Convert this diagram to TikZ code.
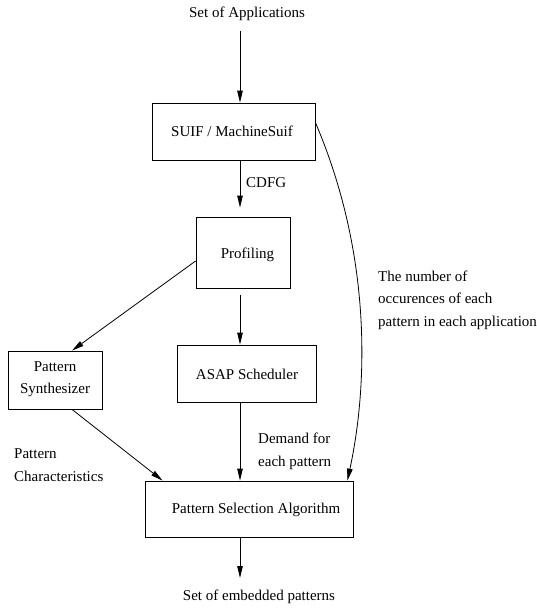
\documentclass[tikz,border=0pt]{standalone}
\usepackage{fontspec}
\setmainfont{Liberation Serif}
\usetikzlibrary{arrows.meta}
\begin{document}
\begin{tikzpicture}[x=1pt,y=-1pt,
  every node/.style={font=\fontsize{15}{22.5}\selectfont, inner sep=0pt},
  box/.style={draw, line width=0.8pt},
  txt/.style={align=center},
  lbl/.style={align=left, anchor=west},
  arr/.style={line width=0.8pt, -{Triangle[length=12pt,width=5.5pt]}}]
\useasboundingbox (0,0) rectangle (537,610);

% column of the main flow
\coordinate (col) at (240,0);

% process boxes
\node[box, minimum width=163pt, minimum height=57pt] (suif) at (233.5,131.5) {};
\node[box, minimum width=94pt,  minimum height=71pt] (prof) at (243,252.5) {};
\node[box, minimum width=139pt, minimum height=57pt] (asap) at (246.5,373.5) {};
\node[box, minimum width=94pt,  minimum height=58pt] (psyn) at (55,380) {};
\node[box, minimum width=208pt, minimum height=56pt] (psa)  at (249,509) {};

% box captions
\node[txt] (suiftxt) at (232,131) {SUIF / MachineSuif};
\node[txt] (proftxt) at (247.5,255) {Profiling};
\node[txt] (asaptxt) at (247,374) {ASAP Scheduler};
\node[txt] (psyntxt) at (55,379) {Pattern\\Synthesizer};
\node[txt] (psatxt)  at (256,510) {Pattern Selection Algorithm};

% input / output
\node (apps) at (247,14) {Set of Applications};
\node (outp) at (259,597) {Set of embedded patterns};
\coordinate (outend) at (240,578);

% edge labels
\node[lbl] (cdfg) at (246,183) {CDFG};
\node[lbl] (occ) at (378,300) {The number of\\occurences of each\\pattern in each application};
\node[lbl] (dem) at (258,451.5) {Demand for\\each pattern};
\node[lbl] (pch) at (14,465) {Pattern\\Characteristics};

% connectors
\draw[arr, shorten <=10pt] (apps.south -| col) -- (suif.north -| col);
\draw[arr, shorten >=9pt] (suif.south -| col) -- (prof.north -| col);
\draw[arr, shorten <=7pt] (prof.south -| col) -- (asap.north -| col);
\draw[arr] ([yshift=-8.5pt]prof.west) -- ([xshift=17pt]psyn.north);
\draw[arr] ([xshift=17pt]psyn.south) -- ([xshift=18pt]psa.north west);
\draw[arr] (asap.south -| col) -- (psa.north -| col);
\draw[arr] ([yshift=9pt]suif.east) .. controls (372,255) and (368,385) .. ([xshift=-6pt]psa.north east);
\draw[arr] (psa.south -| col) -- (outend);
\end{tikzpicture}
\end{document}
